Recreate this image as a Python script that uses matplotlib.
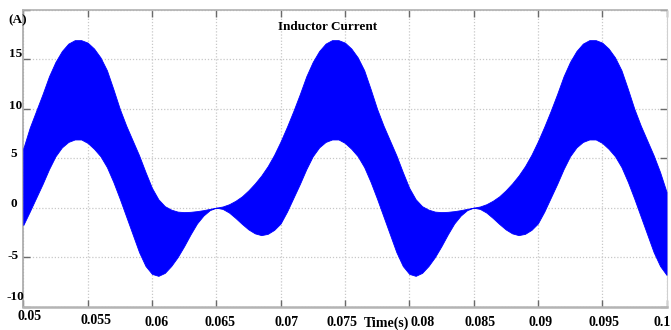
import numpy as np
import matplotlib
matplotlib.use("Agg")
import matplotlib.pyplot as plt

# ---- data ----
t_start, t_step, n_pts = 0.05, 0.0005, 101
time = t_start + t_step * np.arange(n_pts)

upper = (
    # 0.050 .. 0.065
    [6.0, 8.1, 9.8, 11.5, 13.3, 14.75, 15.85, 16.6, 16.95, 16.95, 16.7, 16.1, 15.2, 13.9, 12.0,
     10.0, 8.3, 6.8, 5.3, 3.6, 2.0, 0.85, 0.15, -0.2, -0.4, -0.45, -0.42, -0.35, -0.25, -0.12, 0.0]
    # 0.0655 .. 0.085
    + [0.12, 0.35, 0.7, 1.15, 1.75, 2.45, 3.25, 4.2, 5.35, 6.7,
       8.2, 9.8, 11.5, 13.3, 14.75, 15.85, 16.6, 16.95, 16.95, 16.7, 16.1, 15.2, 13.9, 12.0,
       10.0, 8.3, 6.8, 5.3, 3.6, 2.0, 0.85, 0.15, -0.2, -0.4, -0.45, -0.42, -0.35, -0.25, -0.12, 0.0]
    # 0.0855 .. 0.1
    + [0.12, 0.35, 0.7, 1.15, 1.75, 2.45, 3.25, 4.2, 5.35, 6.7,
       8.2, 9.8, 11.5, 13.3, 14.75, 15.85, 16.6, 16.95, 16.95, 16.7, 16.1, 15.2, 13.9, 12.0,
       10.0, 8.3, 6.8, 5.3, 3.6, 1.6]
)
lower = (
    [-1.75, -0.4, 1.0, 2.4, 3.9, 5.2, 6.1, 6.65, 6.9, 6.9, 6.55, 5.95, 5.2, 4.1, 2.6,
     0.9, -0.9, -2.7, -4.5, -5.9, -6.7, -6.9, -6.6, -5.9, -5.0, -3.9, -2.7, -1.6, -0.8, -0.25, 0.0]
    + [-0.13, -0.5, -1.05, -1.65, -2.2, -2.6, -2.78, -2.65, -2.25, -1.6,
       -0.4, 1.0, 2.4, 3.9, 5.2, 6.1, 6.65, 6.9, 6.9, 6.55, 5.95, 5.2, 4.1, 2.6,
       0.9, -0.9, -2.7, -4.5, -5.9, -6.7, -6.9, -6.6, -5.9, -5.0, -3.9, -2.7, -1.6, -0.8, -0.25, 0.0]
    + [-0.13, -0.5, -1.05, -1.65, -2.2, -2.6, -2.78, -2.65, -2.25, -1.6,
       -0.4, 1.0, 2.4, 3.9, 5.2, 6.1, 6.65, 6.9, 6.9, 6.55, 5.95, 5.2, 4.1, 2.6,
       0.9, -0.9, -2.7, -4.5, -5.9, -6.8]
)

x_ticks = [0.05, 0.055, 0.06, 0.065, 0.07, 0.075, 0.08, 0.085, 0.09, 0.095, 0.1]
x_tick_labels = ["0.05", "0.055", "0.06", "0.065", "0.07", "0.075", "0.08", "0.085", "0.09", "0.095", "0.1"]
y_ticks = [-10, -5, 0, 5, 10, 15]
y_tick_labels = ["-10", "-5", "0", "5", "10", "15"]
title = "Inductor Current"
x_label = "Time(s)"
y_unit = "(A)"

# ---- layout (pixel offsets of the staggered labels) ----
x_lab_dx = [6, 8, 5, 4, 6, -2.5, 13, 7, 3, 1.5, -4]
x_lab_dy = [-10.5, -14.5, -16, -15.5, -15.5, -16.5, -16, -15.5, -16.5, -16.5, -15.5]
y_lab_dx = [-17, -16, -13, -13, -14, -14]
y_lab_dy = [10, 1, 4, 4, 3, 5]

W, H = 671, 330
fig = plt.figure(figsize=(W / 100, H / 100), dpi=100)
ax_l, ax_r, ax_t, ax_b = 23.3, 666.5, 10, 306.5
ax = fig.add_axes([ax_l / W, 1 - ax_b / H, (ax_r - ax_l) / W, (ax_b - ax_t) / H])

ax.fill_between(time, lower, upper, color="#0000ff", linewidth=0.6, zorder=3)

ax.set_xlim(0.05, 0.1)
ax.set_ylim(-10, 20)
ax.set_xticks(x_ticks)
ax.set_yticks(y_ticks + [20])
ax.grid(True, color="#c8c8c8", linestyle=(0, (1, 1.5)), linewidth=0.9, zorder=0)
ax.tick_params(direction="in", top=True, right=True, length=5, width=1,
               color="#6a6a6a", labelbottom=False, labelleft=False)
for side, lw, c in [("left", 1.2, "#a8a8a8"), ("bottom", 1.8, "#b4b4b4"),
                    ("top", 1.2, "#b0b0b0"), ("right", 0.8, "#d0d0d0")]:
    ax.spines[side].set_linewidth(lw)
    ax.spines[side].set_color(c)

font = dict(family=["Liberation Serif", "DejaVu Serif"], fontweight="bold")

for xv, lab, dx, dy in zip(x_ticks, x_tick_labels, x_lab_dx, x_lab_dy):
    ax.annotate(lab, xy=(xv, 0), xycoords=("data", "axes fraction"),
                xytext=(dx, dy), textcoords="offset pixels",
                ha="center", va="center", fontsize=10, annotation_clip=False, **font)

for yv, lab, dx, dy in zip(y_ticks, y_tick_labels, y_lab_dx, y_lab_dy):
    ax.annotate(lab, xy=(0, yv), xycoords=("axes fraction", "data"),
                xytext=(dx, dy), textcoords="offset pixels",
                ha="left", va="center", fontsize=9.5, annotation_clip=False, **font)

fig.text(386.7 / W, 1 - 323 / H, x_label, ha="center", va="center", fontsize=10, **font)
fig.text(8 / W, 1 - 20 / H, y_unit, ha="left", va="center", fontsize=9.5, **font)
fig.text(328 / W, 1 - 27 / H, title, ha="center", va="center", fontsize=9.5, **font)

fig.savefig("out.png", dpi=100)
